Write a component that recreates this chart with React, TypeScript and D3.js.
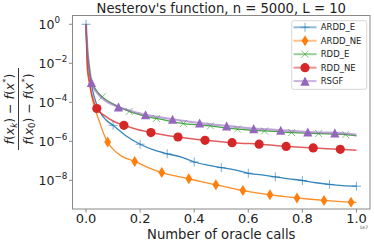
import { useMemo } from 'react';
import * as d3 from 'd3';

// Nesterov's function, n = 5000, L = 10 — relative residual vs oracle calls (x in units of 1e7)

const W = 374;
const H = 244;
const PLOT = { left: 72.5, right: 370, top: 15.5, bottom: 209 };
const FONT = "'DejaVu Sans', sans-serif";

const X_TICKS = [0, 0.2, 0.4, 0.6, 0.8, 1.0];
const Y_TICKS = [1, 1e-2, 1e-4, 1e-6, 1e-8];
const Y_TICK_EXP = ['0', '−2', '−4', '−6', '−8'];

const ARDD_E_X = [0, 0.005, 0.01, 0.02, 0.03, 0.05, 0.075, 0.1, 0.15, 0.2, 0.25, 0.3, 0.35, 0.4, 0.45, 0.5, 0.55, 0.6, 0.65, 0.7, 0.75, 0.8, 0.85, 0.9, 0.95, 1.0];
const ARDD_E_Y = [1, 2e-2, 6e-3, 8e-4, 2e-4, 3.5e-5, 1.2e-5, 6.6e-6, 1.8e-6, 7.1e-7, 3.6e-7, 2.3e-7, 1.6e-7, 8.7e-8, 6e-8, 4.5e-8, 3.4e-8, 2.3e-8, 1.9e-8, 1.5e-8, 1.2e-8, 9.8e-9, 7.5e-9, 6.2e-9, 5.4e-9, 5e-9];
const ARDD_E_MARKS = [0, 0.1, 0.2, 0.3, 0.4, 0.5, 0.6, 0.7, 0.8, 0.9, 1.0];

const ARDD_NE_X = [0, 0.005, 0.01, 0.02, 0.035, 0.05, 0.065, 0.08, 0.1, 0.13, 0.18, 0.23, 0.28, 0.33, 0.38, 0.43, 0.48, 0.53, 0.58, 0.63, 0.68, 0.73, 0.78, 0.83, 0.88, 0.93, 0.98, 1.0];
const ARDD_NE_Y = [1, 1e-2, 2.5e-3, 2.5e-4, 3.9e-5, 1e-5, 2.5e-6, 9.1e-7, 4e-7, 1.8e-7, 9.3e-8, 4.5e-8, 2.5e-8, 1.7e-8, 1.2e-8, 8.3e-9, 5.9e-9, 4.2e-9, 3e-9, 2.3e-9, 1.8e-9, 1.5e-9, 1.26e-9, 1.07e-9, 9.3e-10, 8.3e-10, 7.6e-10, 7.4e-10];
const ARDD_NE_MARKS = [0.08, 0.18, 0.28, 0.38, 0.48, 0.58, 0.68, 0.78, 0.88, 0.98];

const RDD_E_X = [0, 0.005, 0.01, 0.02, 0.04, 0.06, 0.11, 0.16, 0.21, 0.26, 0.31, 0.36, 0.41, 0.46, 0.51, 0.56, 0.61, 0.66, 0.71, 0.76, 0.81, 0.86, 0.91, 0.96, 1.0];
const RDD_E_Y = [1, 5e-2, 1e-2, 1.3e-3, 3.8e-4, 1.9e-4, 7e-5, 3.4e-5, 2.1e-5, 1.48e-5, 1.07e-5, 8.1e-6, 7.1e-6, 6.2e-6, 5e-6, 4.2e-6, 3.7e-6, 3.4e-6, 3.1e-6, 2.8e-6, 2.6e-6, 2.5e-6, 2.35e-6, 2.2e-6, 1.9e-6];
const RDD_E_MARKS = [0.06, 0.16, 0.26, 0.36, 0.46, 0.56, 0.66, 0.76, 0.86, 0.96];

const RDD_NE_X = [0, 0.005, 0.01, 0.02, 0.04, 0.07, 0.1, 0.14, 0.19, 0.24, 0.29, 0.34, 0.39, 0.44, 0.49, 0.54, 0.59, 0.64, 0.69, 0.74, 0.79, 0.84, 0.89, 0.94, 1.0];
const RDD_NE_Y = [1, 5e-3, 1.5e-3, 3e-4, 4.8e-5, 2e-5, 1.1e-5, 6.6e-6, 4e-6, 2.8e-6, 2.1e-6, 1.66e-6, 1.35e-6, 1.12e-6, 9.8e-7, 8.5e-7, 7.8e-7, 7.1e-7, 6.2e-7, 5.5e-7, 5e-7, 4.6e-7, 4.2e-7, 3.9e-7, 3.5e-7];
const RDD_NE_MARKS = [0.04, 0.14, 0.24, 0.34, 0.44, 0.54, 0.64, 0.74, 0.84, 0.94];

const RSGF_X = [0, 0.005, 0.01, 0.015, 0.02, 0.04, 0.07, 0.12, 0.17, 0.22, 0.27, 0.32, 0.37, 0.42, 0.47, 0.52, 0.57, 0.62, 0.67, 0.72, 0.77, 0.82, 0.87, 0.92, 0.97, 1.0];
const RSGF_Y = [1, 6e-2, 1e-2, 3e-3, 1.05e-3, 3.2e-4, 1.26e-4, 5.8e-5, 3.5e-5, 2.3e-5, 1.74e-5, 1.35e-5, 1.07e-5, 8.7e-6, 7.2e-6, 6.2e-6, 5.2e-6, 4.5e-6, 4.1e-6, 3.7e-6, 3.3e-6, 3e-6, 2.8e-6, 2.7e-6, 2.4e-6, 2.2e-6];
const RSGF_MARKS = [0.02, 0.12, 0.22, 0.32, 0.42, 0.52, 0.62, 0.72, 0.82, 0.92];

type Marker = 'plus' | 'diamond' | 'x' | 'circle' | 'triangle';

interface Series {
  name: string;
  color: string;
  xs: number[];
  ys: number[];
  marks: number[];
  marker: Marker;
  width: number;
  opacity: number;
}

const SERIES: Series[] = [
  { name: 'ARDD_E', color: '#1f77b4', xs: ARDD_E_X, ys: ARDD_E_Y, marks: ARDD_E_MARKS, marker: 'plus', width: 1.3, opacity: 0.9 },
  { name: 'ARDD_NE', color: '#ff7f0e', xs: ARDD_NE_X, ys: ARDD_NE_Y, marks: ARDD_NE_MARKS, marker: 'diamond', width: 1.3, opacity: 0.9 },
  { name: 'RDD_E', color: '#2ca02c', xs: RDD_E_X, ys: RDD_E_Y, marks: RDD_E_MARKS, marker: 'x', width: 1.3, opacity: 0.9 },
  { name: 'RDD_NE', color: '#d62728', xs: RDD_NE_X, ys: RDD_NE_Y, marks: RDD_NE_MARKS, marker: 'circle', width: 1.5, opacity: 0.75 },
  { name: 'RSGF', color: '#9467bd', xs: RSGF_X, ys: RSGF_Y, marks: RSGF_MARKS, marker: 'triangle', width: 2.2, opacity: 0.6 },
];

function MarkerShape({ kind, x, y, color }: { kind: Marker; x: number; y: number; color: string }) {
  const t = `translate(${x},${y})`;
  switch (kind) {
    case 'plus':
      return <path transform={t} d="M-4.5,0H4.5M0,-4.5V4.5" stroke={color} strokeWidth={1} strokeOpacity={0.6} fill="none" />;
    case 'x':
      return <path transform={t} d="M-3.5,-3.5L3.5,3.5M-3.5,3.5L3.5,-3.5" stroke={color} strokeWidth={1} strokeOpacity={0.6} fill="none" />;
    case 'diamond':
      return <path transform={t} d="M0,-5.5L3.4,0L0,5.5L-3.4,0Z" fill={color} />;
    case 'circle':
      return <circle cx={x} cy={y} r={4.6} fill={color} />;
    case 'triangle':
      return <path transform={t} d="M0,-4.6L4.6,4.6L-4.6,4.6Z" fill={color} />;
  }
}

export default function App() {
  const x = useMemo(() => d3.scaleLinear().domain([-0.05, 1.05]).range([PLOT.left, PLOT.right]), []);
  const y = useMemo(() => d3.scaleLog().domain([2.818, 3.39e-10]).range([PLOT.top, PLOT.bottom]), []);

  const line = d3
    .line<[number, number]>()
    .x((d) => x(d[0]))
    .y((d) => y(d[1]))
    .curve(d3.curveMonotoneX);

  const LEG = { x: 291.7, y: 20.7, w: 75, h: 68.6, row0: 27.3, step: 13.45 };

  return (
    <svg width={W} height={H} style={{ position: 'absolute', left: 0, top: 0, background: '#fff' }} fontFamily={FONT}>
      <defs>
        <clipPath id="plot-clip">
          <rect x={PLOT.left} y={PLOT.top} width={PLOT.right - PLOT.left} height={PLOT.bottom - PLOT.top} />
        </clipPath>
      </defs>

      {/* Title */}
      <text x={(PLOT.left + PLOT.right) / 2} y={12.5} textAnchor="middle" fontSize={13.2} fill="#222">
        Nesterov's function, n = 5000, L = 10
      </text>

      {/* Series */}
      <g clipPath="url(#plot-clip)">
        {SERIES.map((s) => {
          const pts = s.xs.map((v, i) => [v, s.ys[i]] as [number, number]);
          const marked = pts.filter((p) => s.marks.some((m) => Math.abs(m - p[0]) < 1e-9));
          return (
            <g key={s.name}>
              <path d={line(pts) ?? ''} fill="none" stroke={s.color} strokeWidth={s.width} strokeOpacity={s.opacity} />
              {marked.map((p, i) => (
                <MarkerShape key={i} kind={s.marker} x={x(p[0])} y={y(p[1])} color={s.color} />
              ))}
            </g>
          );
        })}
      </g>

      {/* Frame */}
      <rect x={PLOT.left} y={PLOT.top} width={PLOT.right - PLOT.left} height={PLOT.bottom - PLOT.top} fill="none" stroke="#888" strokeWidth={1} />

      {/* X axis */}
      {X_TICKS.map((t) => (
        <g key={t}>
          <line x1={x(t)} x2={x(t)} y1={PLOT.bottom} y2={PLOT.bottom + 3.5} stroke="#888" strokeWidth={1} />
          <text x={x(t)} y={223} textAnchor="middle" fontSize={13} fill="#222">
            {t.toFixed(1)}
          </text>
        </g>
      ))}
      <text x={368} y={229} textAnchor="end" fontSize={4.5} fill="#444">1e7</text>
      <text x={(PLOT.left + PLOT.right) / 2} y={238.5} textAnchor="middle" fontSize={13.2} fill="#222">
        Number of oracle calls
      </text>

      {/* Y axis */}
      {Y_TICKS.map((t, i) => (
        <g key={t}>
          <line x1={PLOT.left - 3.5} x2={PLOT.left} y1={y(t)} y2={y(t)} stroke="#888" strokeWidth={1} />
          <text x={38.5} y={y(t) + 4.5} fontSize={12.5} fill="#222">
            10
            <tspan fontSize={8.8} dy={-5.5}>{Y_TICK_EXP[i]}</tspan>
          </text>
        </g>
      ))}

      {/* Y label: fraction */}
      <g transform="translate(0,109) rotate(-90)" fill="#222" fontSize={12.5}>
        <text x={0} y={14} textAnchor="middle">
          <tspan fontStyle="italic">f</tspan>(<tspan fontStyle="italic">x</tspan>
          <tspan fontSize={8.5} fontStyle="italic" dy={2.5}>k</tspan>
          <tspan dy={-2.5}>) − </tspan>
          <tspan fontStyle="italic">f</tspan>(<tspan fontStyle="italic">x</tspan>
          <tspan fontSize={8.5} dy={-5}>*</tspan>
          <tspan dy={5}>)</tspan>
        </text>
        <line x1={-41} x2={41} y1={18.5} y2={18.5} stroke="#222" strokeWidth={0.9} />
        <text x={0} y={32.5} textAnchor="middle">
          <tspan fontStyle="italic">f</tspan>(<tspan fontStyle="italic">x</tspan>
          <tspan fontSize={8.5} dy={2.5}>0</tspan>
          <tspan dy={-2.5}>) − </tspan>
          <tspan fontStyle="italic">f</tspan>(<tspan fontStyle="italic">x</tspan>
          <tspan fontSize={8.5} dy={-5}>*</tspan>
          <tspan dy={5}>)</tspan>
        </text>
      </g>

      {/* Legend */}
      <rect x={LEG.x} y={LEG.y} width={LEG.w} height={LEG.h} rx={2} fill="#fff" fillOpacity={0.85} stroke="#ccc" strokeWidth={0.8} />
      {SERIES.map((s, i) => {
        const cy = LEG.row0 + i * LEG.step;
        return (
          <g key={s.name}>
            <line x1={293.5} x2={316.5} y1={cy} y2={cy} stroke={s.color} strokeWidth={2} strokeOpacity={0.5} />
            <MarkerShape kind={s.marker} x={305} y={cy} color={s.color} />
            <text x={320.7} y={cy} dy="0.35em" fontSize={8.5} fill="#222">
              {s.name}
            </text>
          </g>
        );
      })}
    </svg>
  );
}
